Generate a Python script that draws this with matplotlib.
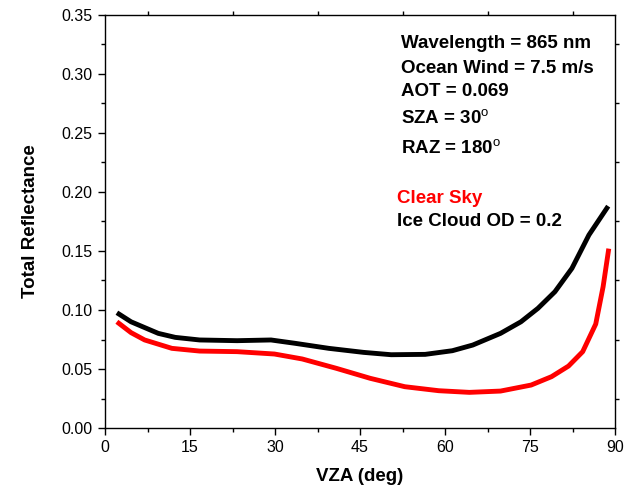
import matplotlib
matplotlib.use("Agg")
import matplotlib.pyplot as plt
from matplotlib.ticker import MultipleLocator

plt.rcParams["font.family"] = ["Liberation Sans", "DejaVu Sans"]
plt.rcParams["mathtext.fontset"] = "custom"
plt.rcParams["mathtext.rm"] = "Liberation Sans"
plt.rcParams["mathtext.bf"] = "Liberation Sans:bold"

# clear sky (red)
vza_clear = [2.1, 4.6, 7.0, 11.8, 16.7, 23.3, 29.9, 34.8, 40.8, 46.8, 52.9,
             58.9, 64.3, 69.8, 75.2, 78.8, 81.8, 84.3, 86.6, 87.9, 88.9]
refl_clear = [0.090, 0.0808, 0.0746, 0.0675, 0.0652, 0.0647, 0.0627, 0.0585,
              0.0506, 0.0421, 0.035, 0.0316, 0.0302, 0.0313, 0.0364, 0.0435,
              0.0525, 0.0647, 0.0881, 0.1197, 0.152]

# ice cloud OD = 0.2 (black)
vza_ice = [2.1, 4.6, 9.4, 12.4, 16.7, 23.3, 29.3, 33.5, 39.5, 45.6, 50.5,
           56.5, 61.3, 64.9, 69.8, 73.4, 76.4, 79.4, 82.4, 85.4, 88.8]
refl_ice = [0.0977, 0.090, 0.0802, 0.0768, 0.0746, 0.074, 0.0746, 0.0718,
            0.0675, 0.0641, 0.0621, 0.0624, 0.0655, 0.0703, 0.0802, 0.090,
            0.1014, 0.1155, 0.1353, 0.1636, 0.188]

info_lines = ["Wavelength = 865 nm", "Ocean Wind = 7.5 m/s", "AOT = 0.069",
              r"SZA = 30$^\mathrm{o}$", r"RAZ = 180$^\mathrm{o}$"]

fig = plt.figure(figsize=(6.25, 4.92), dpi=100)
ax = fig.add_axes([105 / 625, 1 - 428 / 492, 510 / 625, 413 / 492])

ax.plot(vza_clear, refl_clear, color="#ff0000", lw=3.5, solid_capstyle="butt")
ax.plot(vza_ice, refl_ice, color="black", lw=3.5, solid_capstyle="butt")

ax.set_xlim(0, 90)
ax.set_ylim(0, 0.35)
ax.xaxis.set_major_locator(MultipleLocator(15))
ax.xaxis.set_minor_locator(MultipleLocator(7.5))
ax.yaxis.set_major_locator(MultipleLocator(0.05))
ax.yaxis.set_minor_locator(MultipleLocator(0.025))
ax.yaxis.set_major_formatter(plt.FormatStrFormatter("%.2f"))

ax.tick_params(which="major", direction="out", length=5, width=1,
               labelsize=11.5, pad=4)
ax.tick_params(which="minor", direction="out", length=3, width=1)
ax.tick_params(which="minor", top=True, right=True)
for s in ax.spines.values():
    s.set_linewidth(1)

ax.set_xlabel("VZA (deg)", fontsize=13.5, fontweight="bold", labelpad=9)
ax.set_ylabel("Total Reflectance", fontsize=13.5, fontweight="bold", labelpad=16)

# text baselines
ys = [0.322, 0.301, 0.2813, 0.2575, 0.2325]
for t, y in zip(info_lines, ys):
    ax.text(52.2, y, t, fontsize=13.5, fontweight="bold", va="baseline")

ax.text(51.6, 0.1906, "Clear Sky", color="#ff0000", fontsize=13.5,
        fontweight="bold", va="baseline")
ax.text(51.6, 0.1711, "Ice Cloud OD = 0.2", color="black", fontsize=13.5,
        fontweight="bold", va="baseline")

plt.savefig("out.png", dpi=100)
